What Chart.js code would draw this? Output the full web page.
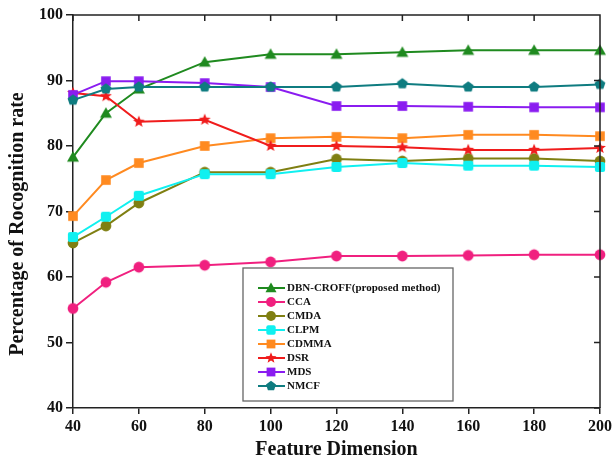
<!DOCTYPE html>
<html>
<head>
<meta charset="utf-8">
<script src="https://cdn.jsdelivr.net/npm/chart.js@4/dist/chart.umd.min.js"></script>
<style>
  html, body { margin: 0; padding: 0; background: #fff; }
  canvas { display: block; }
</style>
</head>
<body>
<canvas id="lineChart" width="612" height="467"></canvas>
<script>
// values
const dims = [40, 50, 60, 80, 100, 120, 140, 160, 180, 200];
const dbnCroff = [78.3, 85.0, 88.7, 92.8, 94.0, 94.0, 94.3, 94.6, 94.6, 94.6];
const cca = [55.2, 59.2, 61.5, 61.8, 62.3, 63.2, 63.2, 63.3, 63.4, 63.4];
const cmda = [65.2, 67.8, 71.3, 76.0, 76.0, 78.0, 77.7, 78.1, 78.1, 77.7];
const clpm = [66.1, 69.2, 72.4, 75.7, 75.7, 76.8, 77.4, 77.0, 77.0, 76.8];
const cdmma = [69.3, 74.8, 77.4, 80.0, 81.2, 81.4, 81.2, 81.7, 81.7, 81.5];
const dsr = [88.1, 87.6, 83.7, 84.0, 80.0, 80.0, 79.8, 79.4, 79.4, 79.7];
const mds = [87.8, 89.9, 89.9, 89.6, 89.0, 86.1, 86.1, 86.0, 85.9, 85.9];
const nmcf = [87.0, 88.7, 89.0, 89.0, 89.0, 89.0, 89.5, 89.0, 89.0, 89.4];

const xTicks = [40, 60, 80, 100, 120, 140, 160, 180, 200];
const yTicks = [40, 50, 60, 70, 80, 90, 100];
const yTitle = 'Percentage of Rocognition rate';

const labelFont = "'Liberation Serif', 'DejaVu Serif', serif";

function drawShape(ctx, shape, x, y, r, color) {
    ctx.save();
    ctx.fillStyle = color;
    ctx.beginPath();
    if (shape === 'triangle') {
        ctx.moveTo(x, y - r);
        ctx.lineTo(x + r, y + r * 0.75);
        ctx.lineTo(x - r, y + r * 0.75);
        ctx.closePath();
    } else if (shape === 'circle') {
        ctx.arc(x, y, r * 0.9, 0, Math.PI * 2);
    } else if (shape === 'square') {
        ctx.rect(x - r * 0.8, y - r * 0.8, r * 1.6, r * 1.6);
    } else if (shape === 'roundsquare') {
        ctx.roundRect(x - r * 0.85, y - r * 0.85, r * 1.7, r * 1.7, r * 0.35);
    } else if (shape === 'star') {
        for (let i = 0; i < 10; i++) {
            let rad = i % 2 === 0 ? r * 1.05 : r * 0.45;
            let a = -Math.PI / 2 + i * Math.PI / 5;
            ctx.lineTo(x + rad * Math.cos(a), y + rad * Math.sin(a));
        }
        ctx.closePath();
    } else if (shape === 'pentagon') {
        for (let i = 0; i < 5; i++) {
            let a = -Math.PI / 2 + i * 2 * Math.PI / 5;
            ctx.lineTo(x + r * 0.95 * Math.cos(a), y + r * 0.95 * Math.sin(a));
        }
        ctx.closePath();
    }
    ctx.fill();
    ctx.restore();
}

function makeMarker(shape, color, r) {
    let c = document.createElement('canvas');
    let s = Math.ceil(r * 2 + 4);
    c.width = s; c.height = s;
    drawShape(c.getContext('2d'), shape, s / 2, s / 2, r, color);
    return c;
}

const seriesInfo = [
    {label: 'DBN-CROFF(proposed method)', values: dbnCroff, color: '#1f8a1f', shape: 'triangle'},
    {label: 'CCA', values: cca, color: '#f0207f', shape: 'circle'},
    {label: 'CMDA', values: cmda, color: '#7f7f12', shape: 'circle'},
    {label: 'CLPM', values: clpm, color: '#10f0f0', shape: 'roundsquare'},
    {label: 'CDMMA', values: cdmma, color: '#ff8a20', shape: 'square'},
    {label: 'DSR', values: dsr, color: '#f01c1c', shape: 'star'},
    {label: 'MDS', values: mds, color: '#8a1cf0', shape: 'square'},
    {label: 'NMCF', values: nmcf, color: '#0f7c80', shape: 'pentagon'}
];

const datasets = seriesInfo.map(s => ({
    label: s.label,
    data: dims.map((d, i) => ({x: d, y: s.values[i]})),
    borderColor: s.color,
    backgroundColor: s.color,
    borderWidth: 2,
    pointStyle: makeMarker(s.shape, s.color, 6),
    pointRadius: 6,
    tension: 0,
    clip: false
})).reverse();

// legend box inside the plot, y title, mirrored frame with inward ticks
const framePlugin = {
    id: 'framePlugin',
    afterDraw(chart) {
        const ctx = chart.ctx;
        const a = chart.chartArea;
        const xs = chart.scales.x, ys = chart.scales.y;
        ctx.save();
        ctx.strokeStyle = '#222';
        ctx.lineWidth = 1.5;
        ctx.beginPath();
        ctx.moveTo(a.left, a.top); ctx.lineTo(a.right, a.top); ctx.lineTo(a.right, a.bottom);
        xTicks.forEach(t => {
            let px = xs.getPixelForValue(t);
            ctx.moveTo(px, a.top); ctx.lineTo(px, a.top + 6);
        });
        yTicks.forEach(t => {
            let py = ys.getPixelForValue(t);
            ctx.moveTo(a.right, py); ctx.lineTo(a.right - 6, py);
        });
        ctx.stroke();

        // y axis title, sits a little below the axis centre
        ctx.save();
        ctx.translate(18, 224);
        ctx.rotate(-Math.PI / 2);
        ctx.font = 'bold 20px ' + labelFont;
        ctx.fillStyle = '#111';
        ctx.textAlign = 'center';
        ctx.textBaseline = 'middle';
        ctx.fillText(yTitle, 0, 0);
        ctx.restore();

        // legend
        const box = {left: 243, top: 268, right: 453, bottom: 401};
        ctx.fillStyle = '#fff';
        ctx.fillRect(box.left, box.top, box.right - box.left, box.bottom - box.top);
        ctx.strokeStyle = '#666';
        ctx.lineWidth = 1.3;
        ctx.strokeRect(box.left, box.top, box.right - box.left, box.bottom - box.top);
        ctx.font = 'bold 11px ' + labelFont;
        ctx.textBaseline = 'middle';
        seriesInfo.forEach((s, i) => {
            let y = 288 + i * 14;
            ctx.strokeStyle = s.color;
            ctx.lineWidth = 2;
            ctx.beginPath();
            ctx.moveTo(258, y); ctx.lineTo(285, y);
            ctx.stroke();
            drawShape(ctx, s.shape, 271, y, 5.5, s.color);
            ctx.fillStyle = '#111';
            ctx.fillText(s.label, 287, y + 0.5);
        });
        ctx.restore();
    }
};

new Chart(document.getElementById('lineChart').getContext('2d'), {
    type: 'line',
    data: {datasets: datasets},
    plugins: [framePlugin],
    options: {
        responsive: false,
        animation: false,
        devicePixelRatio: 1,
        layout: {padding: {top: 15, right: 12, left: 0, bottom: 0}},
        plugins: {legend: {display: false}, tooltip: {enabled: false}},
        scales: {
            x: {
                type: 'linear',
                min: 40, max: 200,
                afterFit: s => { s.height = 59; s.paddingLeft = 0; s.paddingRight = 0; },
                afterBuildTicks: s => { s.ticks = xTicks.map(v => ({value: v})); },
                border: {display: true, color: '#222', width: 1.5},
                grid: {drawOnChartArea: false, drawTicks: true, tickLength: 6, color: '#222', lineWidth: 1.5},
                ticks: {color: '#111', padding: 3, maxRotation: 0, font: {family: labelFont, size: 16, weight: 'bold'}},
                title: {display: true, text: 'Feature Dimension', color: '#111', padding: {top: 0, bottom: 5},
                        font: {family: labelFont, size: 20, weight: 'bold'}}
            },
            y: {
                min: 40, max: 100,
                afterFit: s => { s.width = 73; s.paddingTop = 0; s.paddingBottom = 0; },
                afterBuildTicks: s => { s.ticks = yTicks.map(v => ({value: v})); },
                border: {display: true, color: '#222', width: 1.5},
                grid: {drawOnChartArea: false, drawTicks: true, tickLength: 7, color: '#222', lineWidth: 1.5},
                ticks: {color: '#111', padding: 3, font: {family: labelFont, size: 16, weight: 'bold'}},
                title: {display: false}
            }
        }
    }
});
</script>
</body>
</html>
